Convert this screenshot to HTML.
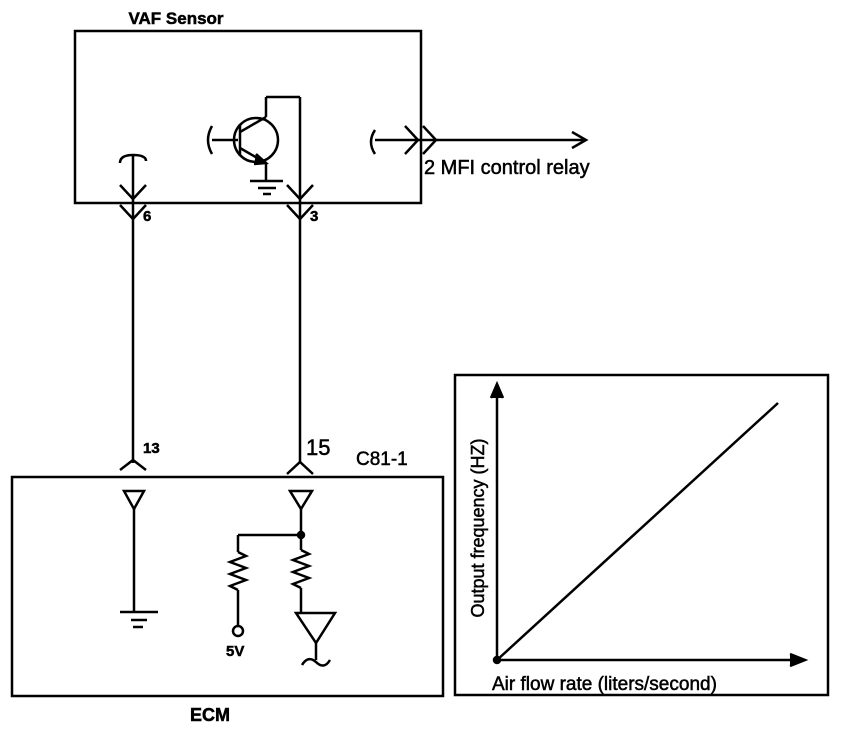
<!DOCTYPE html>
<html><head><meta charset="utf-8"><style>body{margin:0;background:#fff}svg{display:block}text{font-family:"Liberation Sans",sans-serif;fill:#000;stroke:#000;stroke-width:0.5}</style></head><body>
<svg width="848" height="730" viewBox="0 0 848 730" xmlns="http://www.w3.org/2000/svg">
<g fill="none" stroke="#000" stroke-width="2.5">
<rect x="75" y="31" width="346" height="172"/>
<circle cx="256" cy="140" r="22"/>
<line x1="212" y1="140" x2="238" y2="140"/>
<path d="M212 126 q-8 14 0 28"/>
<line x1="240" y1="124" x2="240" y2="156"/>
<line x1="240" y1="132" x2="266" y2="117"/>
<line x1="240" y1="148" x2="266" y2="163"/>
<path d="M256 154 l10 9 l-12 1" fill="#000"/>
<line x1="266" y1="117" x2="266" y2="97"/>
<line x1="266" y1="97" x2="300" y2="97"/>
<line x1="266" y1="163" x2="266" y2="180"/>
<line x1="250" y1="181" x2="283" y2="181"/>
<line x1="258" y1="188" x2="276" y2="188"/>
<line x1="263" y1="194" x2="271" y2="194"/>
<path d="M375 130 q-8 12 0 24"/>
<line x1="375" y1="140" x2="585" y2="140"/>
<path d="M405 126 l13 14 l-13 14"/>
<path d="M423 126 l13 14 l-13 14"/>
<path d="M572 132 l14 8 l-14 8"/>
<path d="M120 163 q0 -8 13 -8 q13 0 13 6"/>
<line x1="133" y1="156" x2="133" y2="463"/>
<path d="M120 185 l13 14 l13 -14"/>
<path d="M120 205 l13 14 l13 -14"/>
<line x1="300" y1="97" x2="300" y2="463"/>
<path d="M287 185 l13 14 l13 -14"/>
<path d="M287 205 l13 14 l13 -14"/>
<path d="M120 470 l13 -10 l13 10"/>
<path d="M287 474 l13 -12 l13 12"/>
<rect x="12" y="477" width="431" height="219"/>
<path d="M124 491 h20 l-10 18 z"/>
<line x1="134" y1="509" x2="134" y2="611"/>
<line x1="120" y1="612" x2="158" y2="612"/>
<line x1="131" y1="620" x2="147" y2="620"/>
<line x1="133" y1="627" x2="143" y2="627"/>
<path d="M290 491 h22 l-11 18 z"/>
<line x1="301" y1="509" x2="301" y2="550"/>
<line x1="238" y1="535" x2="301" y2="535"/>
<circle cx="301" cy="535" r="3" fill="#000"/>
<line x1="238" y1="535" x2="238" y2="552"/>
<path d="M238 552 l8 4 l-16 6 l16 6 l-16 6 l16 6 l-16 6 l8 4"/>
<line x1="238" y1="590" x2="238" y2="626"/>
<circle cx="238" cy="631" r="5"/>
<path d="M301 550 l8 4 l-16 6 l16 6 l-16 6 l16 6 l-16 6 l8 4"/>
<line x1="301" y1="588" x2="301" y2="612"/>
<path d="M296 613 h39 l-19 30 z"/>
<line x1="316" y1="643" x2="316" y2="660"/>
<path d="M302 665 q6 -10 14 -3 q8 8 14 -2"/>
<rect x="455" y="375" width="373" height="320"/>
<line x1="497" y1="660" x2="497" y2="386"/>
<path d="M491 398 l6 -14 l6 14" fill="#000"/>
<line x1="497" y1="660" x2="805" y2="660"/>
<path d="M790 654 l15 6 l-15 6" fill="#000"/>
<line x1="497" y1="660" x2="778" y2="403"/>
<circle cx="497" cy="660" r="3" fill="#000"/>
</g>
<text x="176" y="24" font-size="17" font-weight="bold" text-anchor="middle">VAF Sensor</text>
<text x="424" y="174" font-size="20">2 MFI control relay</text>
<text x="143" y="221" font-size="15" font-weight="bold">6</text>
<text x="310" y="221" font-size="15" font-weight="bold">3</text>
<text x="143" y="453" font-size="15" font-weight="bold">13</text>
<text x="306" y="455" font-size="22">15</text>
<text x="356" y="465" font-size="19">C81-1</text>
<text x="226" y="656" font-size="15" font-weight="bold">5V</text>
<text x="210" y="721" font-size="18" font-weight="bold" text-anchor="middle">ECM</text>
<text transform="translate(484,528) rotate(-90)" font-size="18" text-anchor="middle">Output frequency (HZ)</text>
<text x="492" y="690" font-size="19">Air flow rate (liters/second)</text>
</svg>
</body></html>
